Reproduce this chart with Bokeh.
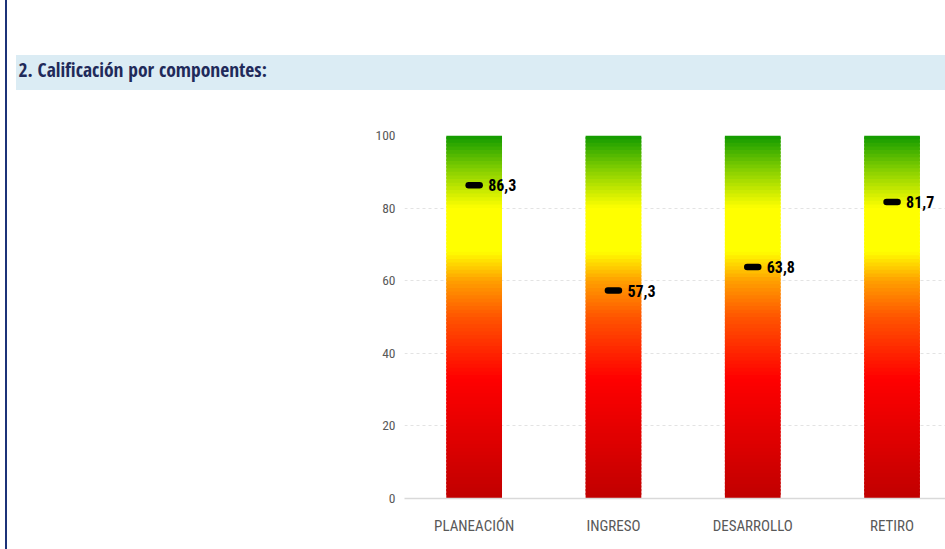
from bokeh.plotting import figure
from bokeh.models import Range1d, FixedTicker, ColumnDataSource, Title
from bokeh.core.properties import value
from bokeh.embed import file_html
from bokeh.resources import INLINE

# ---- data ----
categories = ["PLANEACIÓN", "INGRESO", "DESARROLLO", "RETIRO"]
scores = [86.3, 57.3, 63.8, 81.7]
scale_min = 0
scale_max = 100
y_ticks = [0, 20, 40, 60, 80, 100]
title_text = "2. Calificación por componentes:"

# ---- style ----
TITLE_FONT = "'Open Sans Condensed', 'Roboto Condensed', sans-serif"
FONT = "'Roboto Condensed', sans-serif"
NAVY = "#1c3278"
BAND = "#dbecf4"
grad_stops = [(0, (192, 0, 0)), (33, (255, 0, 0)), (50, (255, 85, 0)),
              (60, (255, 160, 0)), (68, (255, 255, 0)), (80, (255, 255, 0)),
              (90, (140, 210, 0)), (100, (16, 154, 0))]


def grad_color(v):
    for (a, ca), (b, cb) in zip(grad_stops[:-1], grad_stops[1:]):
        if a <= v <= b:
            t = (v - a) / (b - a) if b > a else 0
            c = [round(ca[i] + (cb[i] - ca[i]) * t) for i in range(3)]
            return "#%02x%02x%02x" % tuple(c)
    return "#%02x%02x%02x" % grad_stops[-1][1]


# page decoration (navy rule at left, light-blue header band behind the title) as CSS background layers
PAGE_BG = ("linear-gradient({b}, {b}) 16px 54.5px / 929px 35px no-repeat, "
           "linear-gradient({n}, {n}) 5px 0px / 2px 100% no-repeat, #ffffff").format(b=BAND, n=NAVY)

W, H = 945, 549
FL, FT, FB = 404, 135, 51
CAT_PX = 139.3
n = len(categories)
xs = [i + 0.5 for i in range(n)]

title = Title(text=title_text, align="left", offset=18 - FL, standoff=106,
              text_font=TITLE_FONT, text_font_style="bold", text_font_size="19.5px",
              text_color="#1f2a5a")

p = figure(width=W, height=H, x_range=Range1d(0, (W - FL) / CAT_PX), y_range=Range1d(scale_min, scale_max),
           output_backend="svg", toolbar_location=None, title=title,
           min_border_left=FL, min_border_right=0, min_border_top=FT, min_border_bottom=FB)
p.outline_line_color = None
p.border_fill_color = None
p.background_fill_color = "#ffffff"
p.styles = {"background": PAGE_BG}
p.xgrid.visible = False
p.ygrid.ticker = FixedTicker(ticks=[t for t in y_ticks if t > 0])
p.ygrid.grid_line_color = "#e3e3e3"
p.ygrid.grid_line_dash = "3 3"

bar_half = 0.2
steps = list(range(scale_min, scale_max))
lefts, rights, bottoms, tops, colors = [], [], [], [], []
for x in xs:
    for s in steps:
        lefts.append(x - bar_half)
        rights.append(x + bar_half)
        bottoms.append(s)
        tops.append(min(s + 1.6, scale_max))
        colors.append(grad_color(s + 0.5))
p.quad(left=lefts, right=rights, bottom=bottoms, top=tops, fill_color=colors, line_color=None)

src = ColumnDataSource(dict(x=xs, y=scores, lab=[f"{v:.1f}".replace(".", ",") for v in scores]))
p.scatter(x="x", y="y", source=src, marker="dash", size=11, line_width=6.5, line_cap="round",
          line_color="black", fill_color="black")
p.text(x="x", y="y", text="lab", source=src, x_offset=14, text_baseline="middle", text_align="left",
       text_font=value(FONT), text_font_style="bold", text_font_size="16px", text_color="black")

p.yaxis.ticker = FixedTicker(ticks=y_ticks)
p.yaxis.axis_line_color = None
p.yaxis.major_tick_line_color = None
p.yaxis.major_tick_out = 0
p.yaxis.major_tick_in = 0
p.yaxis.minor_tick_line_color = None
p.yaxis.major_label_standoff = 9
p.yaxis.major_label_text_font = FONT
p.yaxis.major_label_text_font_size = "13.5px"
p.yaxis.major_label_text_color = "#595959"

p.xaxis.ticker = FixedTicker(ticks=xs)
p.xaxis.major_label_overrides = {x: c for x, c in zip(xs, categories)}
p.xaxis.axis_line_color = "#d9d9d9"
p.xaxis.axis_line_width = 1.5
p.xaxis.major_tick_line_color = None
p.xaxis.minor_tick_line_color = None
p.xaxis.major_label_standoff = 12
p.xaxis.major_label_text_font = FONT
p.xaxis.major_label_text_font_size = "15px"
p.xaxis.major_label_text_color = "#595959"

open("out.html", "w").write(file_html(p, INLINE))
